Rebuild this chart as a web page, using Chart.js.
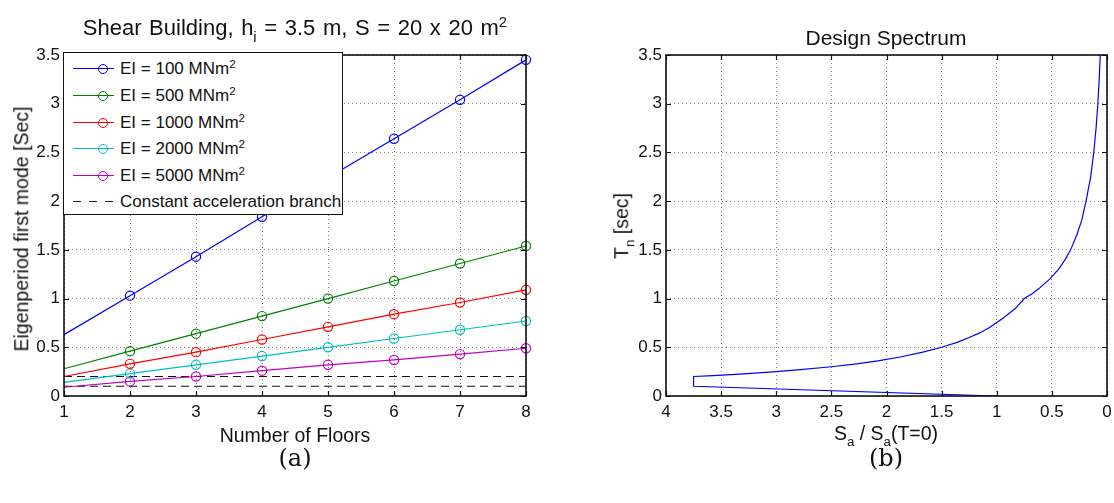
<!DOCTYPE html>
<html>
<head>
<meta charset="utf-8">
<script src="https://cdn.jsdelivr.net/npm/chart.js@4/dist/chart.umd.min.js"></script>
<style>
  html, body { margin:0; padding:0; background:#fff; }
  #wrap { position:relative; width:1114px; height:503px; overflow:hidden; font-family:"Liberation Sans", Arial, Helvetica, sans-serif; color:#111; }
  canvas { position:absolute; top:0; }
  .lbl { position:absolute; white-space:nowrap; line-height:1; transform:translate(-50%,-50%); }
  .rot { transform:translate(-50%,-50%) rotate(-90deg); }
  .sup { font-size:0.68em; position:relative; top:-0.55em; }
  .sub { font-size:0.68em; position:relative; top:0.45em; }
  .cap { font-family:"DejaVu Serif", "Liberation Serif", serif; font-size:24px; }
  #legend { position:absolute; left:63px; top:52px; width:280px; height:163px; box-sizing:border-box; border:1.5px solid #111; background:#fff; }
  .row { position:absolute; left:0; height:26px; width:100%; }
  .samp { position:absolute; left:9px; top:12px; width:41px; height:0; border-top:1.3px solid; }
  .dash { position:absolute; top:12px; width:8px; height:0; border-top:1.3px solid #111; }
  .mk { position:absolute; left:25px; top:-5px; width:8px; height:8px; border:1.3px solid; border-radius:50%; background:transparent; }
  .txt { position:absolute; left:56px; top:4px; font-size:17px; line-height:1; white-space:nowrap; }
</style>
</head>
<body>
<div id="wrap">
  <canvas id="c1" width="557" height="503" style="left:0"></canvas>
  <canvas id="c2" width="557" height="503" style="left:557px"></canvas>

  <div class="lbl" style="left:295px; top:28px; font-size:22px; word-spacing:1.5px;">Shear Building, h<span class="sub">i</span> = 3.5 m, S = 20 x 20 m<span class="sup">2</span></div>
  <div class="lbl" style="left:886px; top:37px; font-size:21px;">Design Spectrum</div>
  <div class="lbl" style="left:295px; top:436px; font-size:19.5px;">Number of Floors</div>
  <div class="lbl" style="left:886px; top:434px; font-size:19.5px;">S<span class="sub">a</span> / S<span class="sub">a</span>(T=0)</div>
  <div class="lbl rot" style="left:22px; top:229px; font-size:19.5px;">Eigenperiod first mode [Sec]</div>
  <div class="lbl rot" style="left:622px; top:226px; font-size:19.5px;">T<span class="sub">n</span> [sec]</div>
  <div class="lbl cap" style="left:295px; top:458px;">(a)</div>
  <div class="lbl cap" style="left:886px; top:458px;">(b)</div>

  <div id="legend"></div>
</div>
<script>
// ---------- data ----------
const floors = [1, 2, 3, 4, 5, 6, 7, 8];
const seriesNames = ["EI = 100 MNm", "EI = 500 MNm", "EI = 1000 MNm", "EI = 2000 MNm", "EI = 5000 MNm"];
const ei100  = [0.63, 1.03, 1.43, 1.84, 2.24, 2.64, 3.04, 3.45];
const ei500  = [0.28, 0.46, 0.64, 0.82, 1.00, 1.18, 1.36, 1.54];
const ei1000 = [0.20, 0.33, 0.45, 0.58, 0.71, 0.84, 0.96, 1.09];
const ei2000 = [0.14, 0.23, 0.32, 0.41, 0.50, 0.59, 0.68, 0.77];
const ei5000 = [0.09, 0.15, 0.20, 0.26, 0.32, 0.37, 0.43, 0.49];
const constAccelLimits = [0.1, 0.2];
const constAccelName = "Constant acceleration branch";

const designT  = [0, 0.1, 0.2, 0.21, 0.22, 0.23, 0.24, 0.25, 0.27, 0.3, 0.33, 0.36, 0.4, 0.45, 0.5, 0.55, 0.6, 0.65, 0.7, 0.8, 0.9, 1.0, 1.05, 1.1, 1.2, 1.3, 1.4, 1.5, 1.65, 1.8, 2.0, 2.25, 2.5, 2.75, 3.0, 3.25, 3.5];
const designSa = [1.0, 3.75, 3.75, 3.57, 3.41, 3.26, 3.13, 3.0, 2.78, 2.5, 2.27, 2.08, 1.875, 1.67, 1.5, 1.36, 1.25, 1.15, 1.07, 0.94, 0.83, 0.75, 0.68, 0.62, 0.52, 0.44, 0.38, 0.33, 0.275, 0.23, 0.19, 0.148, 0.12, 0.099, 0.083, 0.071, 0.061];

const yTicks = [0, 0.5, 1, 1.5, 2, 2.5, 3, 3.5];
const sTicks = [0, 0.5, 1, 1.5, 2, 2.5, 3, 3.5, 4];

// ---------- styling ----------
const colors = ["#0000ff", "#008000", "#ff0000", "#00bfbf", "#bf00bf"];
const FONT = "'Liberation Sans', Arial, Helvetica, sans-serif";
const gridCfg = { color: "rgba(0,0,0,0.5)", lineWidth: 1, drawTicks: false };
const borderCfg = { display: false, dash: [1, 3] };

const framePlugin = {
  id: "frame",
  afterDraw(chart) {
    const { ctx, chartArea: a, scales } = chart;
    ctx.save();
    ctx.strokeStyle = "#111";
    ctx.lineWidth = 1.2;
    const L = 5;
    scales.x.ticks.forEach(t => {
      const p = Math.round(scales.x.getPixelForValue(t.value)) + 0.5;
      ctx.beginPath(); ctx.moveTo(p, a.bottom); ctx.lineTo(p, a.bottom - L);
      ctx.moveTo(p, a.top); ctx.lineTo(p, a.top + L); ctx.stroke();
    });
    scales.y.ticks.forEach(t => {
      const p = Math.round(scales.y.getPixelForValue(t.value)) + 0.5;
      ctx.beginPath(); ctx.moveTo(a.left, p); ctx.lineTo(a.left + L, p);
      ctx.moveTo(a.right, p); ctx.lineTo(a.right - L, p); ctx.stroke();
    });
    ctx.lineWidth = 1.6;
    ctx.strokeRect(a.left, a.top, a.right - a.left, a.bottom - a.top);
    ctx.restore();
  }
};

function tickOpts(pad) {
  return {
    font: { family: FONT, size: 17 }, color: "#111", autoSkip: false, maxRotation: 0,
    padding: pad, callback: v => String(v)
  };
}
function fixTicks(vals) {
  return function (scale) { scale.ticks = vals.map(v => ({ value: v })); };
}

// ---------- left chart ----------
const eiSeries = [ei100, ei500, ei1000, ei2000, ei5000];
const ds1 = eiSeries.map((arr, i) => ({
  label: seriesNames[i],
  data: floors.map((f, k) => ({ x: f, y: arr[k] })),
  borderColor: colors[i], borderWidth: 1.2, showLine: true,
  pointRadius: floors.map((f, k) => k === 0 ? 0 : 4.6),
  pointBorderColor: colors[i], pointBackgroundColor: "rgba(0,0,0,0)", pointBorderWidth: 1.2,
  clip: false, tension: 0
}));
constAccelLimits.forEach(v => {
  ds1.push({
    label: constAccelName,
    data: [{ x: floors[0], y: v }, { x: floors[floors.length - 1], y: v }],
    borderColor: "#111", borderWidth: 1.2, borderDash: [8, 5], showLine: true, pointRadius: 0
  });
});

new Chart(document.getElementById("c1"), {
  type: "scatter",
  data: { datasets: ds1 },
  options: {
    responsive: false, animation: false, events: [],
    layout: { padding: { left: 0, top: 55, right: 31, bottom: 67 } },
    plugins: { legend: { display: false }, tooltip: { enabled: false } },
    scales: {
      x: {
        type: "linear", min: 1, max: 8,
        afterBuildTicks: fixTicks(floors),
        afterFit: s => { s.height = 40; },
        grid: { ...gridCfg }, border: { ...borderCfg },
        ticks: tickOpts(6)
      },
      y: {
        type: "linear", min: 0, max: 3.5,
        afterBuildTicks: fixTicks(yTicks),
        afterFit: s => { s.width = 64; },
        grid: { ...gridCfg }, border: { ...borderCfg },
        ticks: tickOpts(4)
      }
    }
  },
  plugins: [framePlugin]
});

// ---------- right chart ----------
new Chart(document.getElementById("c2"), {
  type: "scatter",
  data: { datasets: [{
    label: "Design Spectrum",
    data: designT.map((t, k) => ({ x: designSa[k], y: t })),
    borderColor: "#0000ff", borderWidth: 1.2, showLine: true, pointRadius: 0, tension: 0
  }] },
  options: {
    responsive: false, animation: false, events: [],
    layout: { padding: { left: 0, top: 55, right: 7, bottom: 67 } },
    plugins: { legend: { display: false }, tooltip: { enabled: false } },
    scales: {
      x: {
        type: "linear", min: 0, max: 4, reverse: true,
        afterBuildTicks: fixTicks(sTicks),
        afterFit: s => { s.height = 40; },
        grid: { ...gridCfg }, border: { ...borderCfg },
        ticks: tickOpts(6)
      },
      y: {
        type: "linear", min: 0, max: 3.5,
        afterBuildTicks: fixTicks(yTicks),
        afterFit: s => { s.width = 109; },
        grid: { ...gridCfg }, border: { ...borderCfg },
        ticks: tickOpts(4)
      }
    }
  },
  plugins: [framePlugin]
});

// ---------- legend (HTML, drawn from the series names/colours) ----------
const leg = document.getElementById("legend");
const rowTops = [3, 30, 57, 83, 110, 136];
seriesNames.forEach((name, i) => {
  const r = document.createElement("div");
  r.className = "row"; r.style.top = rowTops[i] + "px";
  r.innerHTML = '<div class="samp" style="border-color:' + colors[i] + '"><div class="mk" style="border-color:' + colors[i] + '"></div></div>' +
    '<div class="txt">' + name + '<span class="sup">2</span></div>';
  leg.appendChild(r);
});
const r6 = document.createElement("div");
r6.className = "row"; r6.style.top = rowTops[5] + "px";
r6.innerHTML = '<div class="dash" style="left:9px"></div><div class="dash" style="left:25px"></div><div class="dash" style="left:41px"></div>' +
  '<div class="txt">' + constAccelName + '</div>';
leg.appendChild(r6);
</script>
</body>
</html>
